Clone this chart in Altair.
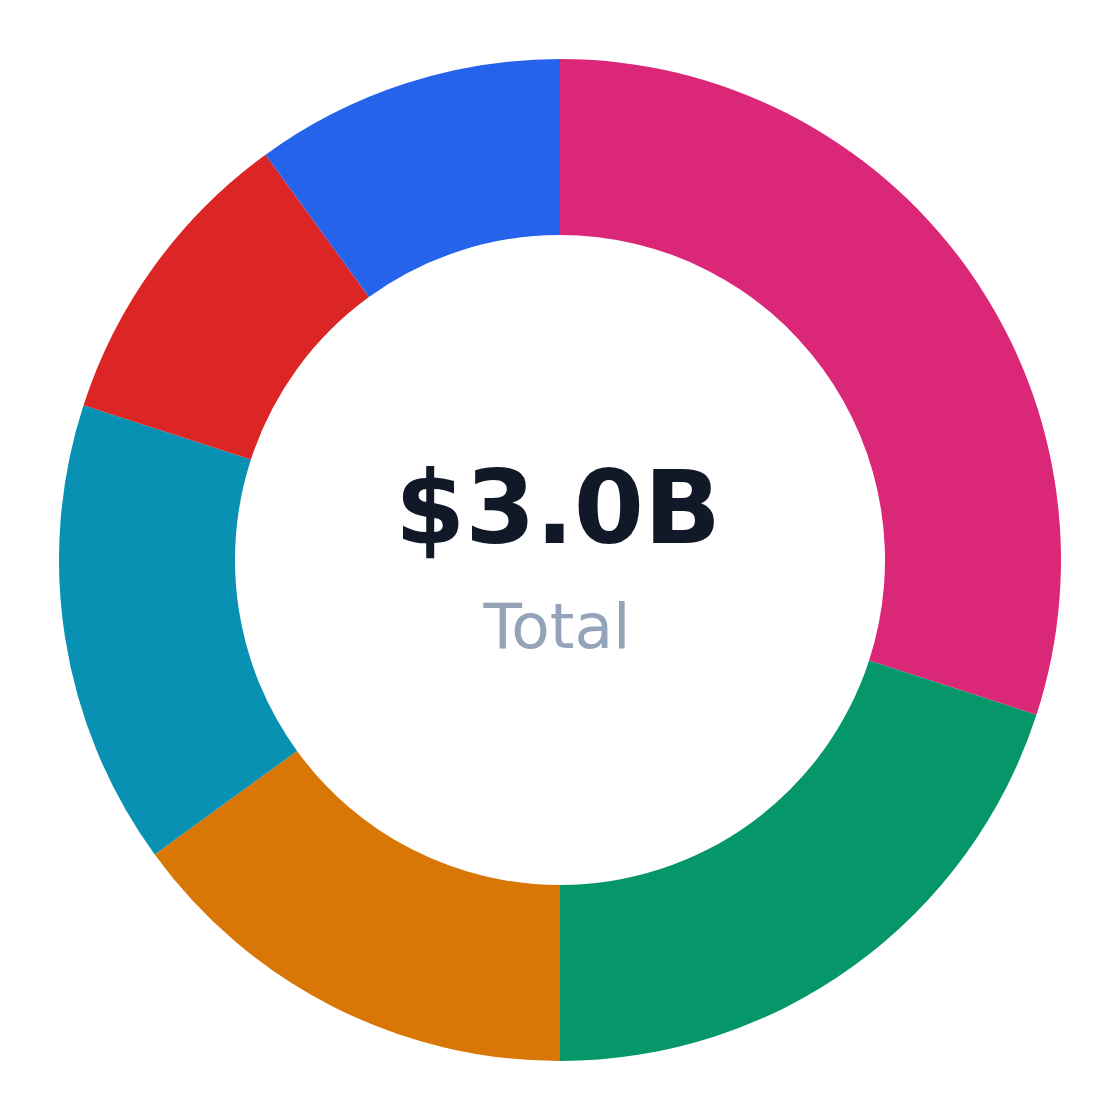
import altair as alt
import pandas as pd

segments = ["A", "B", "C", "D", "E", "F"]
values = [0.9, 0.6, 0.45, 0.45, 0.3, 0.3]  # $B
colors = ["#db2777", "#059669", "#d97706", "#0891b2", "#dc2626", "#2563eb"]
center_value = "$3.0B"
center_label = "Total"

df = pd.DataFrame({"segment": segments, "value": values, "idx": list(range(len(segments)))})

arcs = alt.Chart(df).mark_arc(radius=501, innerRadius=325).encode(
    theta=alt.Theta("value:Q", stack=True),
    order=alt.Order("idx:Q"),
    color=alt.Color("segment:N", scale=alt.Scale(domain=segments, range=colors), legend=None),
)

big = alt.Chart(pd.DataFrame({"t": [center_value]})).mark_text(
    font="DejaVu Sans", fontWeight="bold", fontSize=101, color="#111827",
    align="center", baseline="alphabetic",
).encode(text="t:N", x=alt.value(550), y=alt.value(535))

small = alt.Chart(pd.DataFrame({"t": [center_label]})).mark_text(
    font="DejaVu Sans", fontSize=63, color="#94a3b8",
    align="center", baseline="alphabetic",
).encode(text="t:N", x=alt.value(549), y=alt.value(640))

chart = alt.layer(arcs, big, small).properties(
    width=1104, height=1104, padding=0, background="white",
    autosize=alt.AutoSizeParams(type="fit", contains="padding"),
).configure_view(strokeWidth=0, stroke="transparent")

chart.save("out.html", embed_options={"renderer": "svg", "actions": False})
